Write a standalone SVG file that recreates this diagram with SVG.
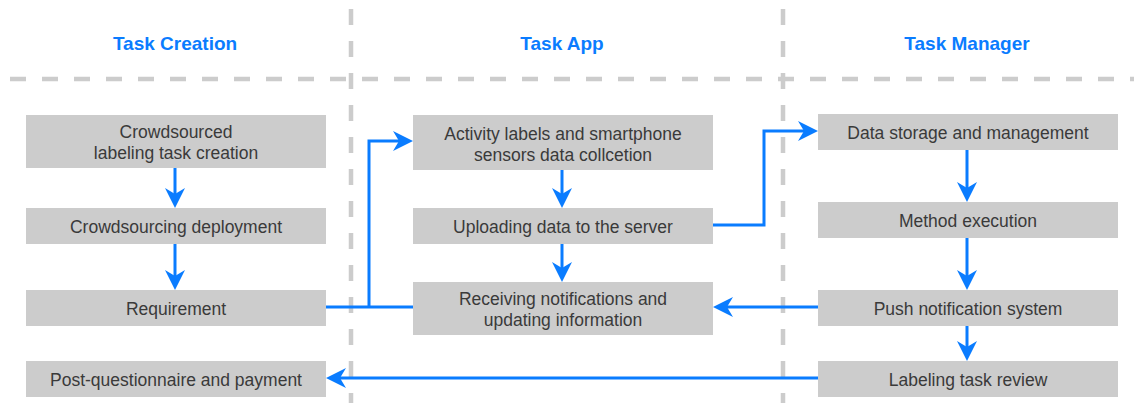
<svg xmlns="http://www.w3.org/2000/svg" width="1134" height="403" viewBox="0 0 1134 403">
  <style>
    .lane { stroke: #cccccc; stroke-width: 4.5; stroke-dasharray: 16 16; fill: none; }
    .head { font-family: "Liberation Sans", Arial, sans-serif; font-size: 19px; font-weight: bold; fill: #0a7cff; text-anchor: middle; }
    .box { fill: #cccccc; }
    .label { font-family: "Liberation Sans", Arial, sans-serif; font-size: 17.5px; fill: #3a3a3a; text-anchor: middle; }
    .edge { stroke: #0a7cff; stroke-width: 3; fill: none; }
    .edge.arrow { marker-end: url(#arrow); }
  </style>
  <defs>
    <marker id="arrow" markerUnits="userSpaceOnUse" viewBox="-20 -10 20 20" markerWidth="20" markerHeight="20" refX="-10" refY="0" orient="auto">
      <path d="M0,0 L-20,-10 L-14,0 L-20,10 Z" fill="#0a7cff"/>
    </marker>
  </defs>

  <rect width="1134" height="403" fill="#ffffff"/>

  <!-- swimlane separators -->
  <g id="lanes">
    <line class="lane" x1="10" y1="79" x2="1134" y2="79"/>
    <line class="lane" x1="351" y1="9" x2="351" y2="403"/>
    <line class="lane" x1="783" y1="9" x2="783" y2="403"/>
  </g>

  <!-- lane titles -->
  <g id="titles">
    <text class="head" x="175" y="50">Task Creation</text>
    <text class="head" x="562" y="50">Task App</text>
    <text class="head" x="967" y="50">Task Manager</text>
  </g>

  <!-- connectors -->
  <g id="connectors">
    <path class="edge arrow" d="M175,168 V198"/>
    <path class="edge arrow" d="M175,244 V280"/>
    <path class="edge" d="M326,307 H413"/>
    <path class="edge arrow" d="M369,307 V141 H403"/>
    <path class="edge arrow" d="M562,170 V198"/>
    <path class="edge arrow" d="M562,244 V272"/>
    <path class="edge arrow" d="M713,225 H764 V131 H808"/>
    <path class="edge arrow" d="M967,150 V192"/>
    <path class="edge arrow" d="M967,238 V280"/>
    <path class="edge arrow" d="M818,307 H723"/>
    <path class="edge arrow" d="M967,326 V351"/>
    <path class="edge arrow" d="M818,378 H336"/>
  </g>

  <!-- Task Creation lane -->
  <g id="task-creation">
    <rect class="box" x="26" y="115" width="300" height="53"/>
    <text class="label" x="176" y="138">Crowdsourced</text>
    <text class="label" x="176" y="159">labeling task creation</text>
  </g>
  <g id="crowdsourcing-deployment">
    <rect class="box" x="26" y="208" width="300" height="36"/>
    <text class="label" x="176" y="233">Crowdsourcing deployment</text>
  </g>
  <g id="requirement">
    <rect class="box" x="26" y="290" width="300" height="36"/>
    <text class="label" x="176" y="315">Requirement</text>
  </g>
  <g id="post-questionnaire">
    <rect class="box" x="26" y="361" width="300" height="36"/>
    <text class="label" x="176" y="386">Post-questionnaire and payment</text>
  </g>

  <!-- Task App lane -->
  <g id="data-collection">
    <rect class="box" x="413" y="115" width="300" height="55"/>
    <text class="label" x="563" y="140">Activity labels and smartphone</text>
    <text class="label" x="563" y="161">sensors data collcetion</text>
  </g>
  <g id="uploading">
    <rect class="box" x="413" y="208" width="300" height="36"/>
    <text class="label" x="563" y="233">Uploading data to the server</text>
  </g>
  <g id="receiving">
    <rect class="box" x="413" y="282" width="300" height="53"/>
    <text class="label" x="563" y="305">Receiving notifications and</text>
    <text class="label" x="563" y="326">updating information</text>
  </g>

  <!-- Task Manager lane -->
  <g id="data-storage">
    <rect class="box" x="818" y="114" width="300" height="36"/>
    <text class="label" x="968" y="139">Data storage and management</text>
  </g>
  <g id="method-execution">
    <rect class="box" x="818" y="202" width="300" height="36"/>
    <text class="label" x="968" y="227">Method execution</text>
  </g>
  <g id="push-notification">
    <rect class="box" x="818" y="290" width="300" height="36"/>
    <text class="label" x="968" y="315">Push notification system</text>
  </g>
  <g id="task-review">
    <rect class="box" x="818" y="361" width="300" height="36"/>
    <text class="label" x="968" y="386">Labeling task review</text>
  </g>
</svg>
